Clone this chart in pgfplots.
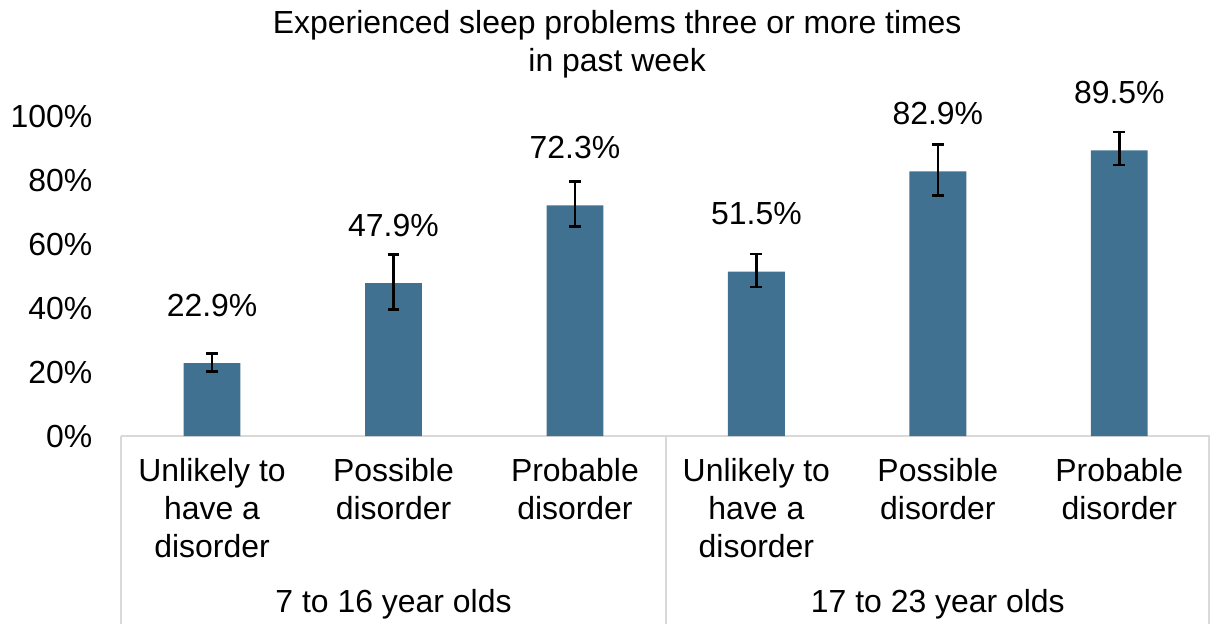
\documentclass[border=0pt]{standalone}
\usepackage{pgfplots}
\pgfplotsset{compat=1.18}
\usepackage{fontspec}
\setmainfont{Liberation Sans}
\definecolor{barblue}{RGB}{65,113,144}
\definecolor{sepgray}{RGB}{217,217,217}
\begin{document}
\begin{tikzpicture}
\fontsize{16bp}{19bp}\selectfont
\begin{axis}[
  scale only axis,
  width=545.5bp, height=160bp,
  xmin=-0.5, xmax=5.5, ymin=0, ymax=100,
  clip=false,
  axis x line*=bottom, axis y line*=left,
  y axis line style={draw=none},
  x axis line style={draw=sepgray, line width=1bp},
  major tick length=0pt,
  ytick={0,20,40,60,80,100},
  yticklabel={\pgfmathprintnumber{\tick}\%},
  /pgf/number format/assume math mode=true,
  yticklabel style={font=\fontsize{16bp}{19bp}\selectfont, xshift=-9bp},
  xtick={0,1,2,3,4,5},
  xticklabels={{Unlikely to\\have a\\disorder},{Possible\\disorder},{Probable\\disorder},{Unlikely to\\have a\\disorder},{Possible\\disorder},{Probable\\disorder}},
  xticklabel style={font=\fontsize{16bp}{19bp}\selectfont, align=center, anchor=north, yshift=-5.5bp},
  ybar, bar width=28.5bp,
  nodes near coords={\pgfplotspointmeta},
  nodes near coords style={font=\fontsize{16bp}{19bp}\selectfont, anchor=center, yshift=29bp, black},
  point meta=explicit symbolic,
]
\addplot[fill=barblue, draw=none,
  error bars/.cd, y dir=both, y explicit,
  error bar style={black, line width=1.3bp},
  error mark options={rotate=90, mark size=3bp, line width=1.3bp, black}]
  coordinates {
  (0,22.9) += (0,3.0) -= (0,2.7) [22.9\%]
  (1,47.9) += (0,8.9) -= (0,8.3) [47.9\%]
  (2,72.3) += (0,7.4) -= (0,6.7) [72.3\%]
  (3,51.5) += (0,5.5) -= (0,4.8) [51.5\%]
  (4,82.9) += (0,8.4) -= (0,7.6) [82.9\%]
  (5,89.5) += (0,5.8) -= (0,4.6) [89.5\%]
};
\draw[sepgray, line width=1bp] (axis cs:-0.5,0) -- ([yshift=-94bp]axis cs:-0.5,0);
\draw[sepgray, line width=1bp] (axis cs:2.5,0) -- ([yshift=-94bp]axis cs:2.5,0);
\draw[sepgray, line width=1bp] ([xshift=-0.5bp]axis cs:5.5,0) -- ([xshift=-0.5bp,yshift=-94bp]axis cs:5.5,0);
\node at ([yshift=-84bp]axis cs:1,0) {7 to 16 year olds};
\node at ([yshift=-84bp]axis cs:4,0) {17 to 23 year olds};
\node[align=center] at ([yshift=196.25bp]axis cs:2.233,0) {Experienced sleep problems three or more times\\in past week};
\coordinate (bbl) at ([xshift=-60bp,yshift=-94bp]axis cs:-0.5,0);
\coordinate (btr) at ([yshift=217.5bp]axis cs:5.5,0);
\end{axis}
\path[use as bounding box] (bbl) rectangle (btr);
\end{tikzpicture}
\end{document}
